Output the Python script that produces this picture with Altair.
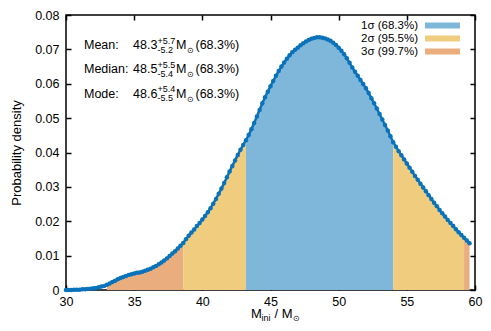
import altair as alt
import numpy as np
import pandas as pd

# ---- data ----
x_start = 30.0
x_step = 0.2
density = [
    0.0000, 0.0000, 0.0000, 0.0001, 0.0001, 0.0001, 0.0002, 0.0002, 0.0003, 0.0004,
    0.0005, 0.0006, 0.0008, 0.0010, 0.0012, 0.0015, 0.0019, 0.0023, 0.0027, 0.0031,
    0.0035, 0.0038, 0.0041, 0.0044, 0.0046, 0.0048, 0.0050, 0.0051, 0.0053, 0.0056,
    0.0059, 0.0062, 0.0066, 0.0070, 0.0075, 0.0080, 0.0086, 0.0092, 0.0099, 0.0106,
    0.0113, 0.0121, 0.0129, 0.0137, 0.0148, 0.0158, 0.0167, 0.0176, 0.0186, 0.0195,
    0.0205, 0.0215, 0.0226, 0.0238, 0.0251, 0.0265, 0.0280, 0.0295, 0.0311, 0.0328,
    0.0345, 0.0361, 0.0377, 0.0393, 0.0408, 0.0422, 0.0436, 0.0451, 0.0468, 0.0486,
    0.0505, 0.0524, 0.0543, 0.0561, 0.0577, 0.0593, 0.0608, 0.0623, 0.0637, 0.0650,
    0.0662, 0.0673, 0.0683, 0.0692, 0.0699, 0.0705, 0.0712, 0.0718, 0.0723, 0.0727,
    0.0731, 0.0733, 0.0735, 0.0735, 0.0734, 0.0732, 0.0729, 0.0725, 0.0719, 0.0713,
    0.0705, 0.0696, 0.0686, 0.0674, 0.0661, 0.0647, 0.0635, 0.0623, 0.0611, 0.0599,
    0.0587, 0.0573, 0.0558, 0.0543, 0.0528, 0.0512, 0.0496, 0.0480, 0.0464, 0.0447,
    0.0430, 0.0417, 0.0404, 0.0392, 0.0380, 0.0368, 0.0356, 0.0344, 0.0332, 0.0321,
    0.0309, 0.0298, 0.0287, 0.0276, 0.0265, 0.0254, 0.0244, 0.0233, 0.0223, 0.0214,
    0.0204, 0.0195, 0.0186, 0.0177, 0.0168, 0.0160, 0.0152, 0.0144, 0.0136,
]

band_names = ["1σ (68.3%)", "2σ (95.5%)", "3σ (99.7%)"]
band_colors = ["#7eb7d9", "#f0cd7e", "#eaae7e"]
seg_start = [33.0, 38.6, 43.2, 54.0, 59.2]
seg_end = [38.6, 43.2, 54.0, 59.2, 59.6]
seg_band = [2, 1, 0, 1, 2]

stat_names = ["Mean:", "Median:", "Mode:"]
stat_values = ["48.3", "48.5", "48.6"]
stat_plus = ["+5.7", "+5.5", "+5.4"]
stat_minus = ["-5.2", "-5.4", "-5.5"]
stat_level = "(68.3%)"

x_ticks = [30, 35, 40, 45, 50, 55, 60]
y_ticks = [0, 0.01, 0.02, 0.03, 0.04, 0.05, 0.06, 0.07, 0.08]

# ---- tables ----
mass = np.round(x_start + x_step * np.arange(len(density)), 1)
curve_df = pd.DataFrame({"m": mass, "p": density})
rows = []
for i, (a, b, k) in enumerate(zip(seg_start, seg_end, seg_band)):
    for xv, yv in zip(mass, density):
        if a - 1e-6 <= xv <= b + 1e-6:
            rows.append({"m": xv, "p": yv, "band": band_names[k], "seg": i})
fill_df = pd.DataFrame(rows)

FONT = "Liberation Sans"
FS = 13
ST = 12.5
DOT = "#0a72ba"
xs = alt.Scale(domain=[30, 60], nice=False, zero=False)
ys = alt.Scale(domain=[0, 0.08], nice=False, zero=True)

ax_common = dict(
    offset=-5, tickSize=5, tickWidth=1.5, tickColor="black", domain=False, grid=False,
    labelFont=FONT, labelFontSize=12.5, labelColor="black", labelFlush=False,
    labelOverlap=False,
)
ax_mirror = {k: v for k, v in ax_common.items() if not k.startswith("label")}

fill = alt.Chart(fill_df).mark_area(opacity=1, interpolate="linear").encode(
    x=alt.X("m:Q", scale=xs, axis=alt.Axis(orient="bottom", values=x_ticks, title=None,
                                           labelPadding=5.5, **ax_common)),
    y=alt.Y("p:Q", scale=ys, stack=None, axis=alt.Axis(
        orient="left", values=y_ticks, format=".2~f", title="Probability density",
        titleFont=FONT, titleFontSize=FS, titleFontWeight="normal", titleColor="black",
        titlePadding=11, labelPadding=7, **ax_common)),
    color=alt.Color("band:N", scale=alt.Scale(domain=band_names, range=band_colors), legend=None),
    detail="seg:N",
)

line = alt.Chart(curve_df).mark_line(color=DOT, strokeWidth=2.5).encode(
    x=alt.X("m:Q", scale=xs, axis=None), y=alt.Y("p:Q", scale=ys, axis=None))
dots = alt.Chart(curve_df).mark_circle(color=DOT, size=20, opacity=1).encode(
    x=alt.X("m:Q", scale=xs, axis=None), y=alt.Y("p:Q", scale=ys, axis=None))

mirror = alt.Chart(curve_df).mark_point(opacity=0).encode(
    x=alt.X("m:Q", scale=xs, axis=alt.Axis(orient="top", values=x_ticks, title=None, labels=False, **ax_mirror)),
    y=alt.Y("p:Q", scale=ys, axis=alt.Axis(orient="right", values=y_ticks, title=None, labels=False, **ax_mirror)),
)

one = pd.DataFrame({"a": [0]})


def txt(s, x, y, size=FS, align="left", baseline="alphabetic"):
    return alt.Chart(pd.DataFrame({"t": [s]})).mark_text(
        align=align, baseline=baseline, fontSize=size, font=FONT, color="black"
    ).encode(x=alt.value(x), y=alt.value(y), text="t:N")


layers = [fill, line, dots, mirror]

# statistics block (plot-area pixel offsets)
for r in range(3):
    base = 34 + 24.3 * r
    layers.append(txt(stat_names[r], 18, base, size=ST))
    layers.append(txt(stat_values[r], 67, base, size=ST))
    layers.append(txt(stat_plus[r], 91.5, base - 5.5, size=9))
    layers.append(txt(stat_minus[r], 91.5, base + 3.5, size=9))
    layers.append(txt("M", 110, base, size=ST))
    layers.append(txt("⊙", 120.5, base + 4, size=8))
    layers.append(txt(stat_level, 129.5, base, size=ST))

# legend
for k in range(3):
    cy = 10.5 + 13 * k
    layers.append(txt(band_names[k], 352, cy, size=11.5, align="right", baseline="middle"))
    layers.append(alt.Chart(one).mark_rule(strokeWidth=6, color=band_colors[k]).encode(
        x=alt.value(359), x2=alt.value(394), y=alt.value(cy)))

# x-axis title: M_ini / M_sun
layers.append(txt("M", 185, 302.5))
layers.append(txt("ini", 195.5, 305.5, size=9))
layers.append(txt("/ M", 208.5, 302.5))
layers.append(txt("⊙", 227, 305.5, size=8))

chart = alt.layer(*layers).resolve_axis(x="independent", y="independent").properties(
    width=409, height=275,
    autosize=alt.AutoSizeParams(type="none"),
    padding={"left": 58, "top": 7, "right": 8, "bottom": 33},
).configure_view(stroke="black", strokeWidth=1.5)

chart.save("out.html", embed_options={"renderer": "svg", "actions": False})
